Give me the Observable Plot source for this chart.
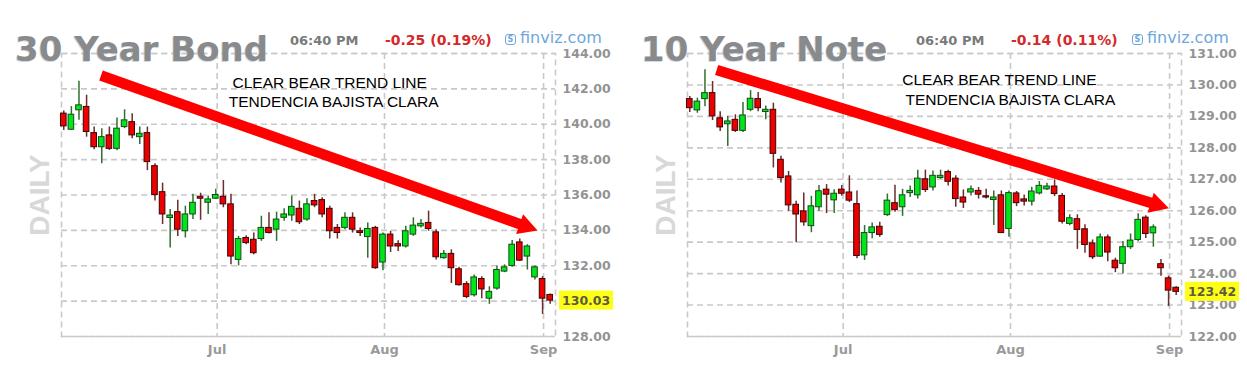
<!DOCTYPE html>
<html>
<head>
<meta charset="utf-8">
<script src="https://cdn.jsdelivr.net/npm/d3@7"></script>
<script src="https://cdn.jsdelivr.net/npm/@observablehq/plot@0.6"></script>
<style>
  html, body { margin: 0; padding: 0; background: #fff; }
  #root { position: relative; width: 1247px; height: 391px; overflow: hidden; background: #fff; }
  .panel { position: absolute; top: 0; width: 621px; height: 391px; }
  .panel svg { position: absolute; left: 0; top: 0; }
  .t { position: absolute; white-space: nowrap; line-height: 1; }
  .title { font: bold 34px "DejaVu Sans"; color: #8a8a8a; text-shadow: -1px 1px 0 rgba(150,180,215,0.5); }
  .time { font: bold 13px "DejaVu Sans"; color: #7a7a7a; }
  .chg { font: bold 14px "DejaVu Sans"; color: #d42a2a; }
  .fv { font: 16px "DejaVu Sans"; color: #6ea7dc; }
  .fv .ic { display: inline-block; width: 9px; height: 9px; border: 1.5px solid #6ea7dc; border-radius: 3px; font: bold 8px "DejaVu Sans"; line-height: 9px; text-align: center; vertical-align: 1px; margin-right: 4px; }
  .daily { font: bold 28px "Liberation Sans"; color: #d8d8d8; transform: translate(-50%, -50%) rotate(-90deg); }
</style>
</head>
<body>
<div id="root">
  <div class="panel" id="p1" style="left:0px">
    <div class="t title" style="left:15px;top:29px">30 Year Bond</div>
    <div class="t time" style="left:290px;top:33px">06:40 PM</div>
    <div class="t chg" style="left:385px;top:32px">-0.25 (0.19%)</div>
    <div class="t fv" style="left:505px;top:28px"><span class="ic">S</span>finviz.com</div>
    <div class="t daily" style="left:40px;top:195px">DAILY</div>
  </div>
  <div class="panel" id="p2" style="left:626px">
    <div class="t title" style="left:15px;top:29px">10 Year Note</div>
    <div class="t time" style="left:290px;top:33px">06:40 PM</div>
    <div class="t chg" style="left:385px;top:32px">-0.14 (0.11%)</div>
    <div class="t fv" style="left:506px;top:28px"><span class="ic">S</span>finviz.com</div>
    <div class="t daily" style="left:40px;top:195px">DAILY</div>
  </div>
</div>
<script>
// ---------- 30 Year Bond (daily OHLC, Jun -> early Sep) ----------
const bondOpen  = [140.60,139.69,140.79,140.98,139.50,138.70,139.37,138.61,139.84,140.12,139.27,139.50,137.63,136.16,134.70,135.03,133.95,134.90,135.90,135.56,135.79,135.90,135.47,132.33,133.57,133.47,133.51,134.14,134.04,134.71,134.84,135.22,134.61,135.66,135.71,135.22,134.14,134.14,134.71,133.95,133.62,134.14,132.18,133.76,133.22,133.09,133.76,134.23,134.42,133.89,132.43,132.67,131.80,130.96,130.33,131.25,130.14,130.71,131.67,131.99,133.32,132.52,131.34,131.25,130.35];
const bondHigh  = [140.75,141.00,142.43,141.64,139.84,139.75,139.84,140.35,140.82,140.60,139.84,139.84,137.76,136.67,135.18,135.71,135.37,136.04,136.10,135.94,136.32,136.82,136.04,133.66,133.70,133.85,134.80,134.99,135.03,135.22,135.94,135.66,135.79,136.04,135.85,135.37,134.33,134.99,134.99,134.14,134.42,134.23,133.85,133.95,133.41,134.23,134.71,134.61,135.09,134.04,132.86,132.90,131.91,131.10,131.48,131.38,130.81,131.99,132.05,133.43,133.51,133.19,131.99,131.38,130.40];
const bondLow   = [139.65,139.65,140.22,139.27,138.56,137.76,138.52,138.50,139.75,139.18,138.86,137.38,135.66,134.33,133.00,133.66,133.57,134.61,134.57,134.90,135.75,135.28,132.05,131.99,133.19,132.62,133.38,133.79,133.38,134.52,134.52,134.33,134.52,135.28,134.71,133.51,133.51,134.04,133.85,133.66,132.43,131.80,131.72,132.75,132.81,133.00,133.66,134.14,133.95,132.33,132.37,131.00,130.85,130.14,130.24,130.14,129.82,130.62,131.61,131.91,132.24,131.76,131.19,129.25,129.82];
const bondClose = [139.88,140.54,141.07,139.56,138.70,139.27,138.61,139.75,140.22,139.37,139.46,137.86,136.00,134.90,134.84,134.04,134.90,135.56,135.79,135.75,136.00,135.47,132.52,133.51,133.28,132.71,134.14,133.85,134.61,134.90,135.33,134.46,135.47,135.41,134.90,133.95,133.85,134.71,134.04,133.85,134.08,131.86,133.76,133.09,133.09,133.95,134.27,134.37,134.08,132.48,132.67,131.86,130.90,130.24,131.34,130.66,130.52,131.76,131.91,133.19,132.29,133.09,131.91,130.14,130.03];
const bondTicks = [128,130,132,134,136,138,140,142,144];
const bondDomain = [128, 144];
const bondArrow = [{x1: 4.96, y1: 142.73, x2: 62.4, y2: 133.97}];
const bondNoteText = ["CLEAR BEAR TREND LINE", "TENDENCIA BAJISTA CLARA"];
const bondNoteX = [22.2, 21.7];
const bondNoteY = [142.33, 141.23];

// ---------- 10 Year Note ----------
const noteOpen  = [129.55,129.19,129.55,129.74,128.94,128.75,128.89,128.54,129.21,129.55,129.14,129.21,127.62,127.09,126.19,125.98,125.51,126.11,126.67,126.33,126.67,126.58,126.21,124.58,125.29,125.49,125.86,126.24,126.11,126.56,126.49,127.00,126.74,127.04,127.23,127.02,126.42,126.58,126.63,126.46,126.34,126.49,125.42,126.55,126.36,126.29,126.55,126.68,126.77,126.47,125.58,125.73,125.41,124.96,124.54,125.15,124.41,124.31,124.84,125.07,125.78,125.28,124.30,123.85,123.55];
const noteHigh  = [129.63,129.58,130.48,130.11,129.15,129.00,129.05,129.44,129.82,129.76,129.33,129.42,127.73,127.25,126.30,126.56,126.46,126.80,126.83,126.67,126.80,127.11,126.63,125.53,125.61,125.63,126.53,126.81,126.68,126.79,127.29,127.29,127.26,127.29,127.29,127.11,126.66,126.79,126.74,126.68,126.63,126.63,126.63,126.61,126.50,126.75,126.93,126.87,126.98,126.55,125.87,125.87,125.55,125.07,125.26,125.23,124.49,125.02,125.26,125.90,125.84,125.55,124.45,123.92,123.58];
const noteLow   = [129.12,129.10,129.31,128.87,128.52,128.04,128.49,128.49,129.15,129.15,128.89,127.36,126.88,125.98,124.98,125.51,125.30,125.98,125.91,125.91,126.46,126.26,124.47,124.42,125.11,125.16,125.82,125.95,125.82,126.42,126.37,126.58,126.63,127.00,126.79,126.11,126.07,126.47,126.37,126.37,125.53,125.27,125.16,126.13,126.15,126.15,126.50,126.64,126.45,125.58,125.52,124.77,124.65,124.45,124.52,124.38,124.03,123.99,124.77,125.02,125.12,124.84,123.92,122.95,123.30];
const noteClose = [129.26,129.47,129.74,129.00,128.65,128.84,128.54,129.03,129.56,129.26,129.21,127.81,127.04,126.17,125.88,125.63,126.14,126.62,126.51,126.54,126.54,126.32,124.56,125.29,125.47,125.23,126.32,126.02,126.49,126.63,127.02,126.66,127.11,127.11,126.92,126.37,126.26,126.68,126.51,126.42,126.42,125.29,126.56,126.24,126.29,126.61,126.79,126.77,126.53,125.65,125.76,125.39,124.91,124.52,125.15,124.67,124.17,124.84,125.05,125.71,125.26,125.47,124.17,123.46,123.42];
const noteTicks = [122,123,124,125,126,127,128,129,130,131];
const noteDomain = [122, 131];
const noteArrow = [{x1: 3.6, y1: 130.46, x2: 63.1, y2: 126.06}];
const noteNoteText = ["CLEAR BEAR TREND LINE", "TENDENCIA BAJISTA CLARA"];
const noteNoteX = [27.96, 28.38];
const noteNoteY = [130.17, 129.51];

// ---------- shared x axis (trading-day index) ----------
const monthLabels = ["Jul", "Aug", "Sep"];
const monthIndex = [20.18, 42.2, 63.13];
const xDomain = [-0.3, 64.7];

function candleChart(cfg) {
  const rows = cfg.open.map((o, i) => ({i, open: o, high: cfg.high[i], low: cfg.low[i], close: cfg.close[i]}));
  const up = rows.filter(d => d.close >= d.open);
  const down = rows.filter(d => d.close < d.open);
  const last = rows[rows.length - 1].close;
  const grid = {stroke: "#c9c9c9", strokeWidth: 1.6, strokeDasharray: "6,4"};
  const fmt = d3.format(".2f");
  const notes = cfg.noteText.map((t, k) => ({t, x: cfg.noteX[k], y: cfg.noteY[k]}));
  const span = cfg.domain[1] - cfg.domain[0];
  // the yellow last-price badge hides the tick label it sits on
  const labelTicks = cfg.ticks.filter(t => Math.abs(t - last) / span * 283 > 10);

  const arrowMark = (index, scales) => {
    const X = scales.x, Y = scales.y;
    const g = d3.create("svg:g");
    for (const a of cfg.arrow) {
      const x1 = X(a.x1), y1 = Y(a.y1), x2 = X(a.x2), y2 = Y(a.y2);
      const ang = Math.atan2(y2 - y1, x2 - x1);
      const L = 19, W = 21;
      const c = Math.cos(ang), s = Math.sin(ang);
      const bx = x2 - L * c, by = y2 - L * s;
      g.append("line").attr("x1", x1).attr("y1", y1).attr("x2", bx + 2 * c).attr("y2", by + 2 * s)
        .attr("stroke", "#ff0000").attr("stroke-width", 10.5);
      g.append("polygon")
        .attr("points", [[x2, y2], [bx - W / 2 * s, by + W / 2 * c], [bx + W / 2 * s, by - W / 2 * c]].map(p => p.join(",")).join(" "))
        .attr("fill", "#ff0000");
    }
    return g.node();
  };

  const lastMark = (index, scales, values, dims) => {
    const Y = scales.y;
    const yy = Y(last);
    const x0 = dims.width - dims.marginRight + 4;
    const g = d3.create("svg:g");
    g.append("rect").attr("x", x0).attr("y", yy - 9.5).attr("width", 54).attr("height", 19).attr("fill", "#ffff14");
    g.append("text").attr("x", x0 + 3).attr("y", yy).attr("dy", "0.36em")
      .attr("text-anchor", "start")
      .attr("font-family", "DejaVu Sans").attr("font-weight", "bold").attr("font-size", 12.5)
      .attr("fill", "#5a5a48").text(fmt(last));
    return g.node();
  };

  return Plot.plot({
    width: 621,
    height: 391,
    marginLeft: 61,
    marginRight: 66,
    marginTop: 53,
    marginBottom: 55,
    x: {domain: xDomain, axis: null},
    y: {domain: cfg.domain, axis: null},
    style: {background: "transparent", fontFamily: "DejaVu Sans", overflow: "visible"},
    marks: [
      Plot.ruleY(cfg.ticks, {y: d => d, ...grid}),
      Plot.ruleX(monthIndex, {x: d => d, ...grid}),
      Plot.frame(grid),
      Plot.ruleX(up, {x: "i", y1: "low", y2: "high", stroke: "#2f6f2f", strokeWidth: 1.5}),
      Plot.ruleX(down, {x: "i", y1: "low", y2: "high", stroke: "#6f2a2a", strokeWidth: 1.5}),
      Plot.rect(up, {x1: d => d.i - 0.37, x2: d => d.i + 0.37, y1: "open", y2: "close", fill: "#00e61a", stroke: "#174a17", strokeWidth: 1}),
      Plot.rect(down, {x1: d => d.i - 0.37, x2: d => d.i + 0.37, y1: "open", y2: "close", fill: "#ee0000", stroke: "#3a0505", strokeWidth: 1}),
      Plot.text(labelTicks, {y: d => d, text: d => fmt(d), frameAnchor: "right", dx: 7, textAnchor: "start",
        fill: "#939393", fontWeight: "bold", fontSize: 12.5, fontFamily: "DejaVu Sans"}),
      Plot.text(monthLabels, {x: (d, i) => monthIndex[i], text: d => d, frameAnchor: "bottom", dy: 17,
        fill: "#9a9a9a", fontWeight: "bold", fontSize: 13, fontFamily: "DejaVu Sans"}),
      arrowMark,
      Plot.text(notes, {x: "x", y: "y", text: "t", textAnchor: "start", fill: "#000",
        fontSize: 15.5, fontFamily: "Liberation Sans"}),
      lastMark
    ]
  });
}

document.getElementById("p1").prepend(candleChart({
  open: bondOpen, high: bondHigh, low: bondLow, close: bondClose,
  ticks: bondTicks, domain: bondDomain, arrow: bondArrow,
  noteText: bondNoteText, noteX: bondNoteX, noteY: bondNoteY
}));
document.getElementById("p2").prepend(candleChart({
  open: noteOpen, high: noteHigh, low: noteLow, close: noteClose,
  ticks: noteTicks, domain: noteDomain, arrow: noteArrow,
  noteText: noteNoteText, noteX: noteNoteX, noteY: noteNoteY
}));
</script>
</body>
</html>
